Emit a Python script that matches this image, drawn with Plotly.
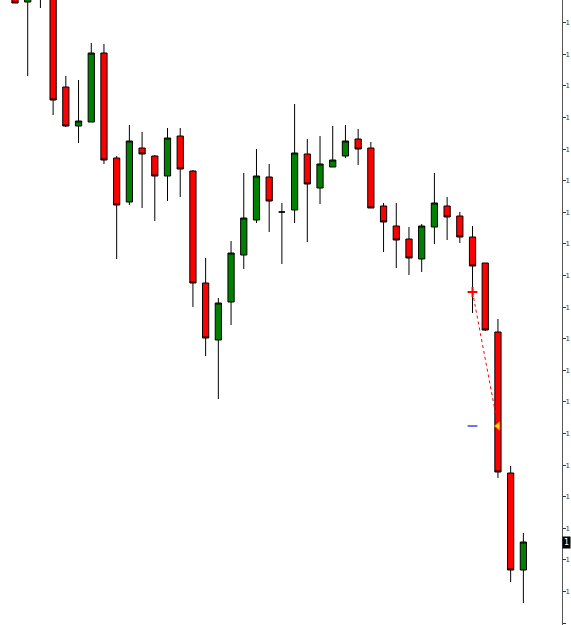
import plotly.graph_objects as go


# ==========================================================
# PRICE DATA (one candle per bar)
# ==========================================================

opens = [
    1.3008, 1.2998, 1.3020, 1.3010, 1.2913, 1.2874, 1.2878, 1.2947,
    1.2842, 1.2798, 1.2852, 1.2844, 1.2824, 1.2864, 1.2829, 1.2717,
    1.2660, 1.2698, 1.2745, 1.2780, 1.2823, 1.2788, 1.2790, 1.2846,
    1.2812, 1.2833, 1.2844, 1.2861, 1.2852, 1.2794, 1.2774, 1.2761,
    1.2741, 1.2773, 1.2794, 1.2784, 1.2763, 1.2737, 1.2668, 1.2527,
    1.2430
]

highs = [
    1.3012, 1.3006, 1.3025, 1.3014, 1.2924, 1.2920, 1.2957, 1.2956,
    1.2844, 1.2875, 1.2868, 1.2845, 1.2872, 1.2872, 1.2830, 1.2742,
    1.2702, 1.2759, 1.2827, 1.2851, 1.2836, 1.2797, 1.2896, 1.2861,
    1.2864, 1.2874, 1.2875, 1.2871, 1.2858, 1.2797, 1.2797, 1.2773,
    1.2776, 1.2827, 1.2803, 1.2788, 1.2774, 1.2737, 1.2681, 1.2534,
    1.2467
]

lows = [
    1.2997, 1.2924, 1.2992, 1.2885, 1.2873, 1.2857, 1.2878, 1.2836,
    1.2741, 1.2795, 1.2792, 1.2779, 1.2799, 1.2803, 1.2693, 1.2644,
    1.2601, 1.2675, 1.2731, 1.2777, 1.2768, 1.2736, 1.2777, 1.2758,
    1.2796, 1.2833, 1.2842, 1.2835, 1.2792, 1.2748, 1.2732, 1.2725,
    1.2728, 1.2756, 1.2760, 1.2757, 1.2687, 1.2669, 1.2522, 1.2418,
    1.2397
]

closes = [
    1.2997, 1.3003, 1.3012, 1.2900, 1.2874, 1.2879, 1.2947, 1.2840,
    1.2795, 1.2859, 1.2846, 1.2824, 1.2862, 1.2831, 1.2717, 1.2662,
    1.2697, 1.2747, 1.2782, 1.2824, 1.2799, 1.2788, 1.2847, 1.2816,
    1.2836, 1.2840, 1.2859, 1.2851, 1.2792, 1.2778, 1.2760, 1.2742,
    1.2774, 1.2797, 1.2783, 1.2763, 1.2734, 1.2670, 1.2528, 1.2430,
    1.2458
]

bars = list(range(len(opens)))

# trade: entry / exit bar and price, plus stop level
trade_bars = [36, 38]
trade_prices = [1.2708, 1.2574]
stop_bar = [36]
stop_price = [1.2574]

# right price scale
tick_values = [
    1.29773, 1.29457, 1.29141, 1.28825, 1.28509, 1.28193, 1.27877,
    1.27561, 1.27245, 1.26929, 1.26613, 1.26297, 1.25981, 1.25665,
    1.25349, 1.25033, 1.24717, 1.24401, 1.24085, 1.23769
]
tick_labels = ["1"] * len(tick_values)

last_price = closes[-1]


# ==========================================================
# FIGURE
# ==========================================================

fig = go.Figure()

# dotted trade line (under the candles)
fig.add_trace(

    go.Scatter(

        x=trade_bars,

        y=trade_prices,

        mode="lines",

        line={
            "color": "#FF0000",
            "width": 1,
            "dash": "dot"
        },

        hoverinfo="skip",

        showlegend=False

    )

)

fig.add_trace(

    go.Candlestick(

        x=bars,

        open=opens,

        high=highs,

        low=lows,

        close=closes,

        increasing={
            "fillcolor": "#008000",
            "line": {
                "color": "#000000",
                "width": 1
            }
        },

        decreasing={
            "fillcolor": "#FF0000",
            "line": {
                "color": "#000000",
                "width": 1
            }
        },

        hoverinfo="skip",

        showlegend=False

    )

)

# entry marker
fig.add_trace(

    go.Scatter(

        x=trade_bars[:1],

        y=trade_prices[:1],

        mode="markers",

        marker={
            "symbol": "cross-thin",
            "size": 7,
            "line": {
                "color": "#FF0000",
                "width": 2
            }
        },

        hoverinfo="skip",

        showlegend=False

    )

)

# exit marker
fig.add_trace(

    go.Scatter(

        x=trade_bars[1:],

        y=trade_prices[1:],

        mode="markers",

        marker={
            "symbol": "triangle-left",
            "size": 7,
            "color": "#FFE000",
            "line": {
                "color": "#FF8000",
                "width": 1
            }
        },

        hoverinfo="skip",

        showlegend=False

    )

)

# stop level dash
fig.add_trace(

    go.Scatter(

        x=stop_bar,

        y=stop_price,

        mode="markers",

        marker={
            "symbol": "line-ew",
            "size": 7,
            "line": {
                "color": "#7070FF",
                "width": 2
            }
        },

        hoverinfo="skip",

        showlegend=False

    )

)

fig.add_annotation(

    x=1,

    xref="paper",

    y=last_price,

    yref="y",

    xanchor="left",

    text="1",

    showarrow=False,

    bgcolor="#000000",

    font={
        "family": "DejaVu Sans",
        "size": 8,
        "color": "#FFFFFF"
    },

    borderpad=1

)

fig.update_layout(

    width=571,

    height=625,

    plot_bgcolor="white",

    paper_bgcolor="white",

    margin=dict(
        l=0,
        r=9,
        t=0,
        b=0
    ),

    boxgap=0.3,

    xaxis={
        "range": [-1.18, 43.04],
        "visible": False,
        "rangeslider": {"visible": False},
        "fixedrange": True
    },

    yaxis={
        "side": "right",
        "range": [1.2375, 1.3000],
        "tickvals": tick_values,
        "ticktext": tick_labels,
        "ticks": "outside",
        "ticklen": 3,
        "tickcolor": "#333333",
        "ticklabelstandoff": -2,
        "showline": True,
        "linecolor": "#555555",
        "linewidth": 1,
        "showgrid": False,
        "zeroline": False,
        "automargin": False,
        "tickfont": {
            "family": "DejaVu Sans",
            "size": 7,
            "color": "#333333"
        }
    }

)

# page body margin would push the 571x625 figure off the window
fig.write_html(
    "out.html",
    config={"displayModeBar": False},
    post_script="document.body.style.margin='0';document.body.style.overflow='hidden';"
)
